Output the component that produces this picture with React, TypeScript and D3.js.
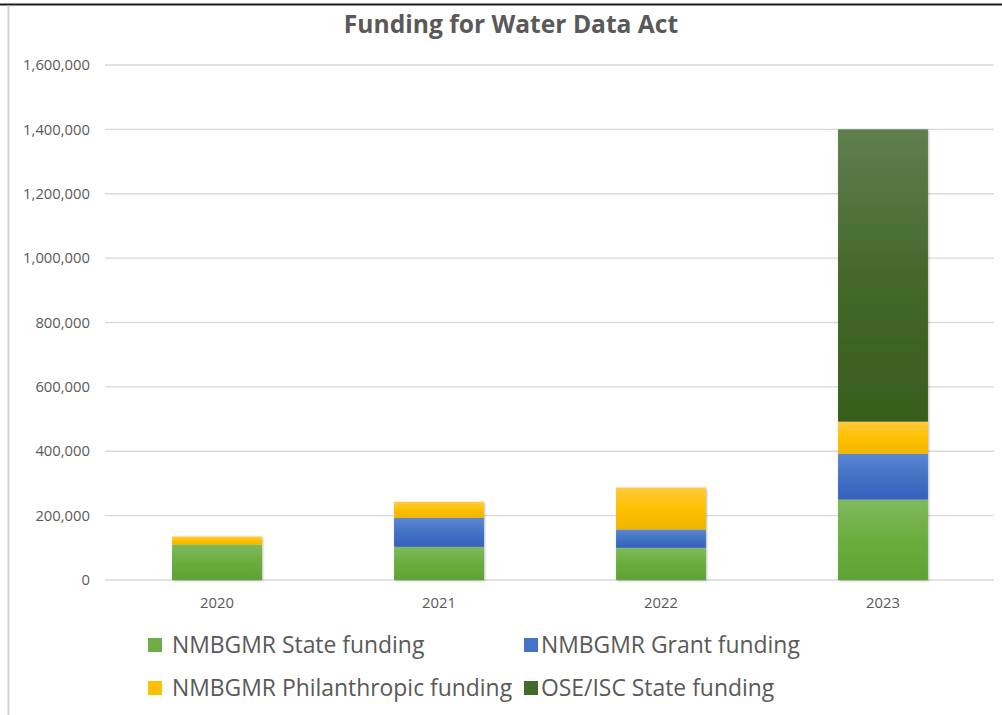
import React from 'react';
import * as d3 from 'd3';

const years = ['2020', '2021', '2022', '2023'];
const stateFunding = [110000, 103000, 100000, 250000];
const grantFunding = [0, 90000, 57000, 142000];
const philanthropicFunding = [25000, 50000, 130000, 100000];
const oseIscFunding = [0, 0, 0, 908000];
const yTicks = [0, 200000, 400000, 600000, 800000, 1000000, 1200000, 1400000, 1600000];
const seriesNames = [
  'NMBGMR State funding',
  'NMBGMR Grant funding',
  'NMBGMR Philanthropic funding',
  'OSE/ISC State funding',
];
const seriesKeys = ['state', 'grant', 'phil', 'ose'];

const gradients: Record<string, [string, string, string]> = {
  state: ['#80b95e', '#6aad3d', '#5fa333'],
  grant: ['#5b86d4', '#4472c4', '#3461bd'],
  phil: ['#ffca3f', '#ffc000', '#f0b500'],
  ose: ['#5f7f50', '#44682a', '#375d1d'],
};
const legendColors: Record<string, string> = {
  state: '#70ad47',
  grant: '#4472c4',
  phil: '#ffc000',
  ose: '#416b28',
};

const FONT = '"Open Sans", "Noto Sans", sans-serif';
const TEXT = '#595959';

export default function App() {
  const W = 1002;
  const H = 715;
  const y = d3.scaleLinear().domain([0, 1600000]).range([580, 65]);
  const x = d3
    .scaleBand<string>()
    .domain(years)
    .range([106, 994])
    .paddingInner(0.595)
    .paddingOuter(0.2975);

  const rows = years.map((yr, i) => ({
    year: yr,
    state: stateFunding[i],
    grant: grantFunding[i],
    phil: philanthropicFunding[i],
    ose: oseIscFunding[i],
  }));
  const stacked = d3.stack<any>().keys(seriesKeys)(rows);

  const fmt = d3.format(',');

  const legendItems = [
    { key: 'state', name: seriesNames[0], sx: 148, tx: 172, cy: 645 },
    { key: 'grant', name: seriesNames[1], sx: 524, tx: 541, cy: 645 },
    { key: 'phil', name: seriesNames[2], sx: 148, tx: 172, cy: 688 },
    { key: 'ose', name: seriesNames[3], sx: 524, tx: 541, cy: 688 },
  ];

  return (
    <svg
      width={W}
      height={H}
      style={{ position: 'absolute', left: 0, top: 0, background: '#fff' }}
    >
      <defs>
        {seriesKeys.map((k) => (
          <linearGradient key={k} id={`g-${k}`} x1="0" y1="0" x2="0" y2="1">
            <stop offset="0%" stopColor={gradients[k][0]} />
            <stop offset="50%" stopColor={gradients[k][1]} />
            <stop offset="100%" stopColor={gradients[k][2]} />
          </linearGradient>
        ))}
        <filter id="shadow" x="-10%" y="-10%" width="120%" height="120%">
          <feDropShadow dx="0.8" dy="0.8" stdDeviation="1.2" floodColor="#000" floodOpacity="0.3" />
        </filter>
      </defs>
      <rect x={0} y={0} width={W} height={H} fill="#fff" />
      {/* borders */}
      <line x1={0} x2={W} y1={4.5} y2={4.5} stroke="#1a1a1a" strokeWidth={2} />
      <line x1={8.5} x2={8.5} y1={5.5} y2={H} stroke="#d3d3d3" strokeWidth={2} />

      {/* title */}
      <text
        x={511}
        y={33}
        textAnchor="middle"
        fontFamily={FONT}
        fontWeight={700}
        fontSize={24.6}
        fill={TEXT}
      >
        Funding for Water Data Act
      </text>

      {/* gridlines and y labels */}
      {yTicks.map((t) => (
        <g key={t}>
          <line
            x1={105}
            x2={994}
            y1={y(t)}
            y2={y(t)}
            stroke="#d9d9d9"
            strokeWidth={1.3}
          />
          <text
            x={90}
            y={y(t)}
            dy="0.35em"
            textAnchor="end"
            fontFamily={FONT}
            fontSize={14.8}
            fill={TEXT}
          >
            {fmt(t)}
          </text>
        </g>
      ))}

      {/* bars */}
      {years.map((yr, i) => (
        <g key={yr} filter="url(#shadow)">
          {stacked.map((s) => {
            const d = s[i];
            const h = y(d[0]) - y(d[1]);
            if (h <= 0) return null;
            return (
              <rect
                key={s.key}
                x={x(yr)}
                width={x.bandwidth()}
                y={y(d[1])}
                height={h}
                fill={`url(#g-${s.key})`}
              />
            );
          })}
        </g>
      ))}

      {/* x labels */}
      {years.map((yr) => (
        <text
          key={yr}
          x={(x(yr) as number) + x.bandwidth() / 2}
          y={608}
          textAnchor="middle"
          fontFamily={FONT}
          fontSize={14.8}
          fill={TEXT}
        >
          {yr}
        </text>
      ))}

      {/* legend */}
      {legendItems.map((l) => (
        <g key={l.key}>
          <rect x={l.sx} y={l.cy - 7} width={14} height={14} fill={legendColors[l.key]} />
          <text
            x={l.tx}
            y={l.cy}
            dy="0.36em"
            fontFamily={FONT}
            fontSize={22.9}
            fill={TEXT}
          >
            {l.name}
          </text>
        </g>
      ))}
    </svg>
  );
}
